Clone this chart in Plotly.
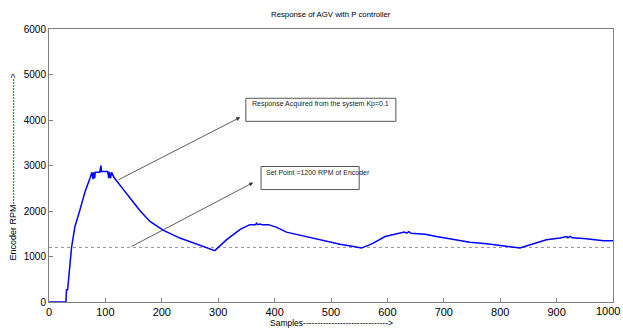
import plotly.graph_objects as go

samples = [0, 29, 30, 31, 33, 40, 46, 55, 64, 73, 76, 78, 79, 81, 82, 90, 92, 93, 104, 106, 107, 109,
           111, 115, 120, 132, 144, 161, 179, 203, 232, 262, 294, 315, 339, 356, 366, 368, 370, 374,
           378, 389, 404, 421, 445, 469, 492, 516, 540, 554, 569, 575, 596, 613, 625, 630, 634, 638,
           642, 667, 687, 717, 746, 776, 782, 805, 835, 859, 882, 906, 914, 918, 920, 924, 928, 953,
           983, 1000]
rpm = [0, 0, 0, 270, 270, 1200, 1660, 2030, 2430, 2730, 2850, 2700, 2850, 2720, 2850, 2850, 3000,
       2870, 2870, 2720, 2860, 2720, 2850, 2740, 2655, 2470, 2280, 2010, 1770, 1575, 1405, 1280, 1130,
       1370, 1595, 1700, 1700, 1730, 1700, 1715, 1700, 1700, 1640, 1535, 1465, 1405, 1330, 1270, 1220,
       1185, 1260, 1295, 1440, 1490, 1510, 1540, 1515, 1545, 1510, 1490, 1440, 1370, 1315, 1280, 1270,
       1235, 1185, 1280, 1370, 1405, 1420, 1440, 1410, 1440, 1410, 1390, 1345, 1345]
set_point = 1200
x_ticks = [0, 100, 200, 300, 400, 500, 600, 700, 800, 900, 1000]
y_ticks = [0, 1000, 2000, 3000, 4000, 5000, 6000]

narrow = "Liberation Sans Narrow, Arial Narrow, Liberation Sans, Arial, sans-serif"
arial = "Liberation Sans, Arial, sans-serif"

fig = go.Figure()
fig.add_trace(go.Scatter(x=[0, 1000], y=[set_point, set_point], mode="lines",
                         line=dict(color="#9a8c94", width=1, dash="dot"), hoverinfo="skip"))
fig.add_trace(go.Scatter(x=samples, y=rpm, mode="lines", line=dict(color="#0000ff", width=1.5)))

# annotation boxes
fig.add_shape(type="rect", x0=349, x1=615, y0=3971, y1=4478, line=dict(color="#555555", width=1),
              fillcolor="white")
fig.add_shape(type="rect", x0=376, x1=550, y0=2471, y1=2978, line=dict(color="#555555", width=1),
              fillcolor="white")
fig.add_annotation(x=356, y=4346, text="Response Acquired from the system Kp=0.1", showarrow=False,
                   xanchor="left", yanchor="middle", font=dict(family=arial, size=7, color="#222"))
fig.add_annotation(x=381, y=2846, text="Set Point =1200 RPM of Encoder", showarrow=False,
                   xanchor="left", yanchor="middle", font=dict(family=arial, size=7, color="#222"))
# arrows
fig.add_annotation(x=339, y=4059, ax=120.6, ay=2669, axref="x", ayref="y", xref="x", yref="y",
                   text="", showarrow=True, arrowhead=2, arrowsize=1, arrowwidth=0.8, arrowcolor="#333")
fig.add_annotation(x=362, y=2625, ax=143.6, ay=1202, axref="x", ayref="y", xref="x", yref="y",
                   text="", showarrow=True, arrowhead=2, arrowsize=1, arrowwidth=0.8, arrowcolor="#333")

# titles
fig.add_annotation(x=0.5, y=1, xref="paper", yref="paper", yshift=15, yanchor="middle",
                   text="Response of AGV with P controller",
                   showarrow=False, font=dict(family=narrow, size=7.8, color="black"))
fig.add_annotation(x=0.5, y=0, xref="paper", yref="paper", yshift=-21, yanchor="middle",
                   text="Samples" + "-" * 30 + "&gt;", showarrow=False,
                   font=dict(family=narrow, size=8.5, color="black"))
fig.add_annotation(x=0, y=0.5, xref="paper", yref="paper", xshift=-37, yshift=-2, textangle=-90,
                   xanchor="center", yanchor="middle",
                   text="Encoder RPM" + "-" * 42 + "&gt;", showarrow=False,
                   font=dict(family=arial, size=9, color="black"))
# last x tick label, pushed against the page edge as in the original
fig.add_annotation(x=1000, y=0, xref="x", yref="paper", yshift=-9, xshift=9, yanchor="middle",
                   xanchor="right", text="1000", showarrow=False,
                   font=dict(family=arial, size=11, color="black"))

axis_common = dict(showgrid=False, zeroline=False, showline=True, linecolor="#808080", linewidth=1,
                   mirror=True, ticks="inside", ticklen=4, tickcolor="#808080")
fig.update_xaxes(range=[0, 1000], tickvals=x_ticks,
                 tickfont=dict(family=arial, size=11, color="black"), **axis_common)
fig.update_yaxes(range=[0, 6000], tickvals=y_ticks,
                 tickfont=dict(family=arial, size=10, color="black"), **axis_common)

fig.update_layout(width=623, height=330, margin=dict(l=49, r=10, t=29, b=28),
                  paper_bgcolor="white", plot_bgcolor="white", showlegend=False)

fig.write_html("out.html", config={"displayModeBar": False},
               post_script="document.body.style.margin='0';document.body.style.overflow='hidden';")
